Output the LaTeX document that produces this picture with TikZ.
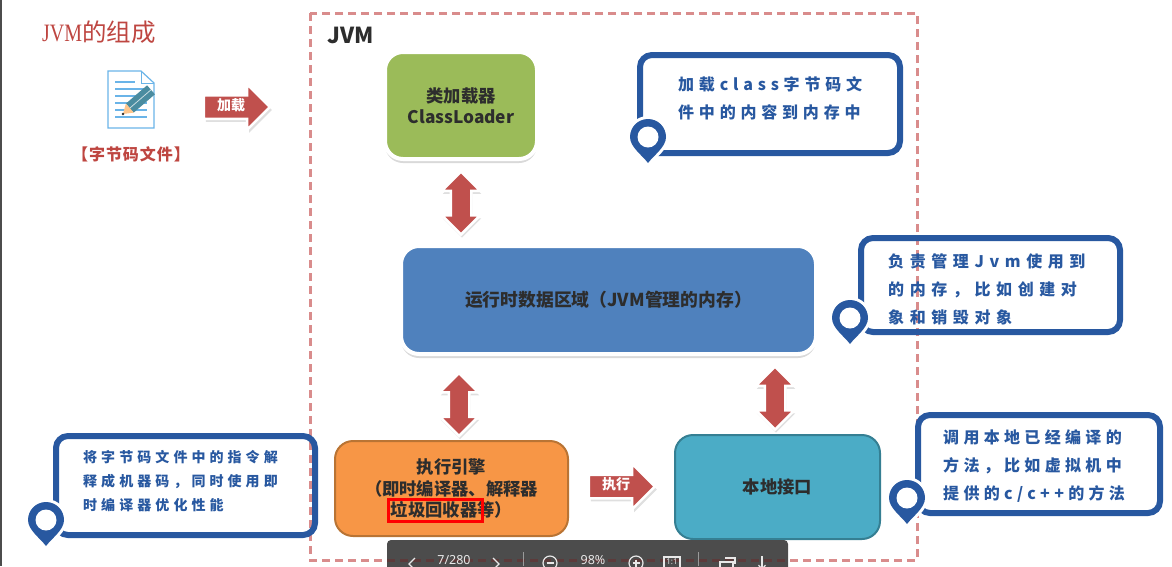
\documentclass[tikz,border=0pt]{standalone}
\usepackage{fontspec}
\setmainfont{Noto Sans CJK SC}
\newfontfamily\titlefont[FakeStretch=0.8]{Liberation Serif}
\newfontfamily\barfont{Noto Sans}
\usetikzlibrary{arrows.meta,positioning,calc,shapes.arrows,shadows}
\definecolor{frameRed}{RGB}{217,140,140}
\definecolor{frameDark}{RGB}{92,58,58}
\definecolor{arrowRed}{RGB}{192,80,77}
\definecolor{titleRed}{RGB}{190,70,65}
\definecolor{loaderGreen}{RGB}{155,187,89}
\definecolor{areaBlue}{RGB}{79,129,189}
\definecolor{engineOrange}{RGB}{247,150,70}
\definecolor{engineEdge}{RGB}{185,116,52}
\definecolor{nativeTeal}{RGB}{75,172,198}
\definecolor{nativeEdge}{RGB}{53,127,147}
\definecolor{tipBlue}{RGB}{40,88,160}
\definecolor{inkDark}{RGB}{45,45,45}
\definecolor{sheetBlue}{RGB}{106,180,232}
\definecolor{pencilTeal}{RGB}{74,140,160}
\definecolor{barGrey}{RGB}{76,76,76}
\definecolor{barText}{RGB}{232,232,232}
\newcommand{\tipfont}[3]{\fontsize{#1}{#3}\selectfont\bfseries\addfontfeature{LetterSpace=#2}}
\newcommand{\pinoutline}{(0,26) .. controls (-6,18) and (-18,10) .. (-18,0)
  .. controls (-18,-10) and (-10,-18) .. (0,-18) .. controls (10,-18) and (18,-10) .. (18,0)
  .. controls (18,10) and (6,18) .. (0,26) -- cycle}
\tikzset{
  block/.style={rounded corners=18pt, align=center, inner sep=0pt, outer sep=0pt, text=inkDark,
                font=\fontsize{17.3}{21.5}\selectfont\bfseries},
  lifted/.style={block, draw=white, line width=4pt,
                 drop shadow={shadow xshift=0pt, shadow yshift=-4pt, opacity=.3}},
  updown/.style={double arrow, shape border rotate=90, fill=arrowRed, draw=white, line width=2.5pt,
                 minimum height=63pt, minimum width=36pt, double arrow head extend=9pt, inner sep=9pt,
                 outer sep=0pt, drop shadow={shadow xshift=1pt, shadow yshift=-3pt, opacity=.25}},
  pointer/.style={single arrow, fill=arrowRed, draw=white, line width=2.5pt, text=white,
                  minimum height=66pt, minimum width=43pt, single arrow head extend=11pt,
                  inner xsep=0pt, inner ysep=3.5pt, text height=10pt, text depth=4pt,
                  outer sep=0pt, font=\fontsize{14}{14}\selectfont\bfseries,
                  drop shadow={shadow xshift=2pt, shadow yshift=-3pt, opacity=.25}},
  tipbox/.style={draw=tipBlue, line width=6pt, rounded corners=12pt, inner sep=0pt},
  tiptext/.style={anchor=west, align=left, text=tipBlue, inner sep=0pt},
  barlabel/.style={text=barText, inner sep=0pt, font=\barfont\fontsize{12.5}{12.5}\selectfont},
  baricon/.style={draw=barText, line width=1.2pt},
  mapmark/.pic={
    \path[fill=white, draw=white, line width=6pt] \pinoutline;
    \fill[tipBlue] \pinoutline;
    \fill[white] (0,0) circle[radius=10.5];
  }
}

\begin{document}
\begin{tikzpicture}[x=1pt, y=-1pt]
  \useasboundingbox (0,0) rectangle (1172,566);
  \fill[barGrey] (0,0) rectangle (1.5,566);
  \draw[frameRed, line width=3pt, dash pattern=on 8pt off 5pt] (310,13) rectangle (917,560);

  \node[anchor=west, inner sep=0pt, text=titleRed, font=\fontsize{24.5}{25}\selectfont] (title) at (42,32) {{\titlefont\fontsize{25}{25}\selectfont JVM}的组成};
  \draw[sheetBlue, line width=1.2pt, fill=white] (108,71) -- (141,71) -- (154,83) -- (154,128) -- (108,128) -- cycle;
  \draw[sheetBlue, line width=1pt] (141,71) -- (141,83) -- (154,83);
  \draw[sheetBlue, line width=1.3pt] (115,82) -- (135,82);
  \foreach \ypos in {89,96,103,110,117}
    \draw[sheetBlue, line width=1.3pt] (115,\ypos) -- (147,\ypos);
  \fill[pencilTeal] (133.7,112.6) -- (125.9,103.6) -- (147.1,85.3) -- (154.9,94.3) -- cycle;
  \draw[white!70!pencilTeal, line width=.8pt] (129.8,108.1) -- (151,89.8);
  \fill[orange!45] (133.7,112.6) -- (125.9,103.6) -- (123,114) -- cycle;
  \fill[inkDark] (123,114) circle[radius=1.3];
  \node[text=titleRed, inner sep=0pt, font=\tipfont{16}{6}{16}] (filename) at (131,154) {【字节码文件】};
  \node[pointer] (loadarrow) at (231,107) {加载};

  \node[inner sep=0pt, text=inkDark, font=\fontsize{22}{22}\selectfont\bfseries] (jvm) at (351,35) {JVM};

  \node[lifted, fill=loaderGreen, minimum width=152pt, minimum height=107pt] (loader) at (461,105.5) {类加载器\\ClassLoader};
  \node[lifted, fill=areaBlue, minimum width=415pt, minimum height=108pt, below=87pt of loader, xshift=147.5pt, font=\fontsize{17.8}{21.5}\selectfont\bfseries] (area) {运行时数据区域（JVM管理的内存）};
  \node[block, draw=engineEdge, line width=2pt, fill=engineOrange, minimum width=233pt, minimum height=95pt, below=87pt of area, xshift=-157pt] (engine) {执行引擎\\（即时编译器、解释器\\垃圾回收器等）};
  \node[block, draw=nativeEdge, line width=2pt, fill=nativeTeal, minimum width=205pt, minimum height=104pt, right=107pt of engine, yshift=1.5pt] (native) {本地接口};
  \node[draw=red, line width=2.5pt, minimum width=94pt, minimum height=22pt, inner sep=0pt] (gcmark) at (435.5,510.5) {};

  \node[updown] (loadarea) at (461,203) {};
  \node[updown] (areaengine) at (459,404.5) {};
  \node[updown] (areanative) at (775,398) {};
  \node[pointer] (runarrow) at (616,486.5) {执行};

  \node[tipbox, minimum width=260pt, minimum height=98pt] (tipload) at (770,104) {};
  \node[tiptext, font=\tipfont{16}{30}{28}] (tiploadtext) at (678,98) {加载class字节码文\\件中的内容到内存中};
  \pic at (648,137) {mapmark};

  \node[tipbox, minimum width=259pt, minimum height=94pt] (tiparea) at (990.5,285) {};
  \node[tiptext, font=\tipfont{16}{35}{28}] (tipareatext) at (888,289) {负责管理Jvm使用到\\的内存，比如创建对\\象和销毁对象};
  \pic at (850,318) {mapmark};

  \node[tipbox, minimum width=242pt, minimum height=98pt] (tipnative) at (1039,464) {};
  \node[tiptext, font=\tipfont{16}{27}{28}] (tipnativetext) at (943,466) {调用本地已经编译的\\方法，比如虚拟机中\\提供的c/c++的方法};
  \pic at (907,498) {mapmark};

  \node[tipbox, minimum width=259pt, minimum height=99pt] (tipengine) at (185.5,485.5) {};
  \node[tiptext, font=\tipfont{14}{29}{24}] (tipenginetext) at (83,481) {将字节码文件中的指令解\\释成机器码，同时使用即\\时编译器优化性能};
  \pic at (46,520) {mapmark};

  \fill[barGrey, rounded corners=4pt] (387,540) -- (788,540) -- (788,575) -- (387,575) -- cycle;
  \begin{scope}
    \clip (387,540) rectangle (788,566);
    \draw[frameDark, line width=3pt, dash pattern=on 8pt off 5pt] (310,13) rectangle (917,560);
  \end{scope}
  \node[barlabel] (page) at (454,560) {7/280};
  \node[barlabel] (zoomlevel) at (593,560) {98\%};
  \draw[baricon] (415,558) -- (409,564) -- (415,570);
  \draw[baricon] (493,558) -- (499,564) -- (493,570);
  \draw[barText!50!barGrey, line width=.8pt] (523,552) -- (523,566);
  \draw[barText!50!barGrey, line width=.8pt] (698,552) -- (698,566);
  \draw[baricon] (550,563) circle[radius=7];
  \draw[baricon] (546.5,563) -- (553.5,563);
  \draw[baricon] (636,563) circle[radius=7];
  \draw[baricon] (632.5,563) -- (639.5,563) (636,559.5) -- (636,566.5);
  \draw[baricon] (664,557) rectangle (680,570);
  \node[text=barText, inner sep=0pt, font=\barfont\fontsize{8}{8}\selectfont\bfseries] (oneone) at (672,561.5) {1:1};
  \draw[baricon] (720,562) rectangle (733,572);
  \draw[baricon] (725,558) -- (735,558) -- (735,564);
  \draw[baricon, -{Straight Barb[length=4pt,width=7pt]}] (762,556) -- (762,570);
\end{tikzpicture}
\end{document}
